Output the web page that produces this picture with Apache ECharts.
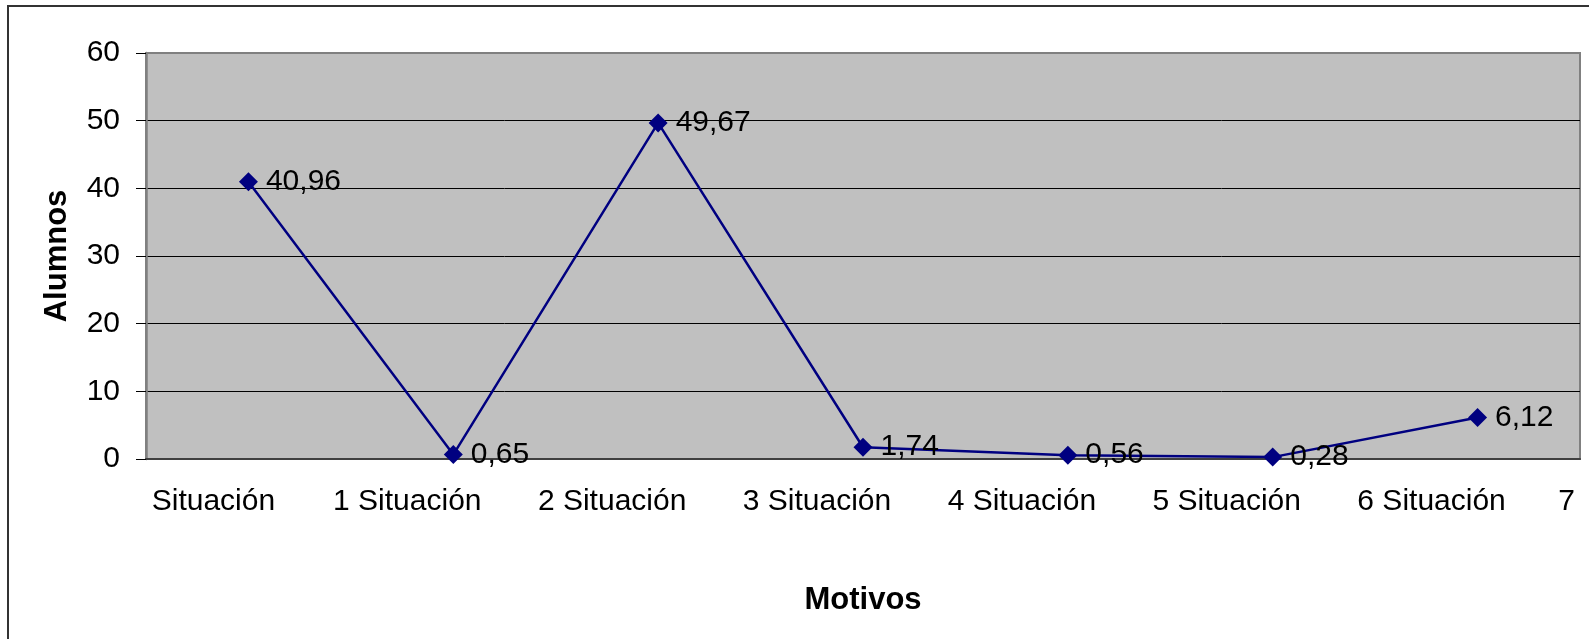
<!DOCTYPE html>
<html>
<head>
<meta charset="utf-8">
<script src="https://cdn.jsdelivr.net/npm/echarts@6/dist/echarts.min.js"></script>
<style>
  html, body { margin: 0; padding: 0; background: #fff; }
  #chart { width: 1589px; height: 639px; }
</style>
</head>
<body>
<div id="chart"></div>
<script>
// datos del gráfico
var categories = ['Situación 1', 'Situación 2', 'Situación 3', 'Situación 4', 'Situación 5', 'Situación 6', 'Situación 7'];
var values = [40.96, 0.65, 49.67, 1.74, 0.56, 0.28, 6.12];
// etiquetas tal como se ven en el eje X
var xLabels = ['Situación', '1 Situación', '2 Situación', '3 Situación', '4 Situación', '5 Situación', '6 Situación'];
var xLabelTail = '7';
var yMin = 0, yMax = 60, yStep = 10;

var chart = echarts.init(document.getElementById('chart'));
var font = 'Liberation Sans, Arial, sans-serif';
var lbl = { fontSize: 30, lineHeight: 36, color: '#000', fontFamily: font };

chart.setOption({
  animation: false,
  textStyle: { fontFamily: font },
  graphic: [{
    type: 'rect',
    shape: { x: 8, y: 6, width: 1700, height: 800 },
    style: { fill: 'none', stroke: '#333', lineWidth: 2 },
    silent: true
  }],
  grid: {
    left: 146, top: 53, right: 9, bottom: 180,
    containLabel: false,
    outerBoundsMode: 'none',
    show: true,
    backgroundColor: '#C0C0C0',
    borderColor: '#808080',
    borderWidth: 2
  },
  xAxis: {
    type: 'category',
    data: categories,
    name: 'Motivos',
    nameLocation: 'middle',
    nameGap: 126,
    nameTextStyle: { fontSize: 31, fontWeight: 'bold', color: '#000', fontFamily: font },
    axisLine: { lineStyle: { color: '#404040', width: 2 } },
    axisTick: { length: 9, lineStyle: { color: '#404040', width: 1.5 } },
    axisLabel: {
      interval: 0,
      margin: 25,
      formatter: function (v, i) {
        if (i === 0) return '{a|' + xLabels[i] + '}{b0| }';
        var tail = i === categories.length - 1 ? xLabelTail : ' ';
        return '{a|' + xLabels[i] + '}{b|' + tail + '}';
      },
      rich: {
        a: Object.assign({ width: 178, align: 'right' }, lbl),
        b: Object.assign({ width: 92, align: 'center' }, lbl),
        b0: Object.assign({ width: 70, align: 'center' }, lbl)
      }
    }
  },
  yAxis: {
    type: 'value',
    min: yMin, max: yMax, interval: yStep,
    name: 'Alumnos',
    nameLocation: 'middle',
    nameGap: 73,
    nameTextStyle: { fontSize: 31, fontWeight: 'bold', color: '#000', fontFamily: font },
    axisLine: { show: true, lineStyle: { color: '#808080', width: 2.5 } },
    axisTick: { show: true, length: 10, lineStyle: { color: '#000', width: 1 } },
    axisLabel: { margin: 26, fontSize: 30, color: '#000', fontFamily: font },
    splitLine: {
      show: true,
      lineStyle: { color: ['#404040', '#000', '#000', '#000', '#000', '#000', '#808080'], width: 1 }
    }
  },
  series: [{
    type: 'line',
    data: values,
    symbol: 'diamond',
    symbolSize: 19,
    lineStyle: { color: '#000080', width: 2.5 },
    itemStyle: { color: '#000080' },
    label: {
      show: true,
      position: 'right',
      distance: 8,
      fontSize: 30,
      color: '#000',
      fontFamily: font,
      formatter: function (p) { return p.value.toFixed(2).replace('.', ','); }
    }
  }]
});
</script>
</body>
</html>
